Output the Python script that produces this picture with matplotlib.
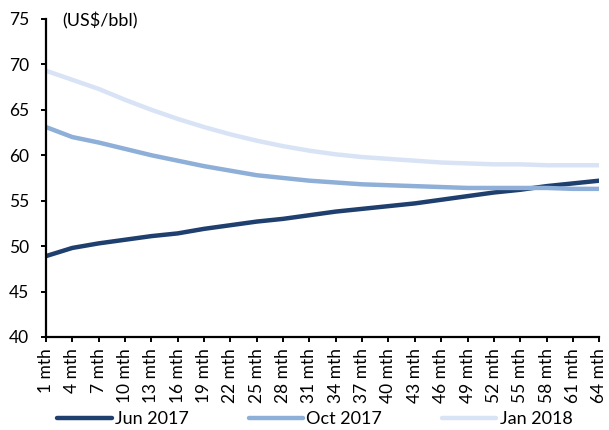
import numpy as np
import matplotlib
matplotlib.use("Agg")
import matplotlib.pyplot as plt

# ── Data ─────────────────────────────────────────────────────────────────────
months = [1, 4, 7, 10, 13, 16, 19, 22, 25, 28, 31, 34, 37, 40, 43, 46, 49, 52, 55, 58, 61, 64]
tick_labels = [f"{m} mth" for m in months]

jun_2017 = [48.9, 49.8, 50.3, 50.7, 51.1, 51.4, 51.9, 52.3, 52.7, 53.0, 53.4, 53.8,
            54.1, 54.4, 54.7, 55.1, 55.5, 55.9, 56.2, 56.6, 56.9, 57.2]
oct_2017 = [63.1, 62.0, 61.4, 60.7, 60.0, 59.4, 58.8, 58.3, 57.8, 57.5, 57.2, 57.0,
            56.8, 56.7, 56.6, 56.5, 56.4, 56.4, 56.4, 56.4, 56.3, 56.3]
jan_2018 = [69.3, 68.3, 67.3, 66.1, 65.0, 64.0, 63.1, 62.3, 61.6, 61.0, 60.5, 60.1,
            59.8, 59.6, 59.4, 59.2, 59.1, 59.0, 59.0, 58.9, 58.9, 58.9]

series = [("Jun 2017", jun_2017, "#1f3f6e"),
          ("Oct 2017", oct_2017, "#8eafd8"),
          ("Jan 2018", jan_2018, "#d9e3f6")]

plt.rcParams["font.family"] = ["Lato", "DejaVu Sans"]

fig = plt.figure(figsize=(6.09, 4.30), dpi=100)
ax = fig.add_axes([0.0755, 0.2163, 0.9085, 0.7397])

for label, vals, col in series:
    ax.plot(months, vals, color=col, linewidth=3.2, solid_capstyle="round", label=label)

ax.set_xlim(1, 64)
ax.set_ylim(40, 75)
ax.set_xticks(months)
ax.set_xticklabels(tick_labels, rotation=90, fontsize=12.5)
ax.set_yticks(range(40, 80, 5))
ax.tick_params(axis="y", labelsize=12.5, length=3.6, width=1.4, direction="out", pad=8.5)
ax.tick_params(axis="x", length=3.6, width=1.4, direction="out", pad=4.3)

for side in ["top", "right"]:
    ax.spines[side].set_visible(False)
for side in ["left", "bottom"]:
    ax.spines[side].set_linewidth(1.6)

ax.text(0.03, 0.995, "(US$/bbl)", transform=ax.transAxes, fontsize=13,
        ha="left", va="center")

fig.legend(loc="center", bbox_to_anchor=(0.517, 0.025), ncol=3, frameon=False,
           fontsize=13, handlelength=3.0, columnspacing=3.3, handletextpad=0.2)

fig.savefig("out.png", dpi=100)
